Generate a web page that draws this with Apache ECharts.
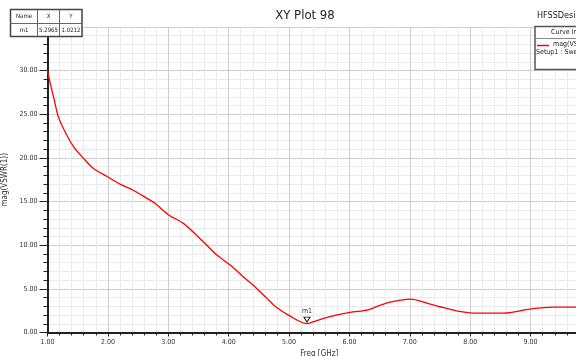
<!DOCTYPE html>
<html>
<head>
<meta charset="utf-8">
<script src="https://cdn.jsdelivr.net/npm/echarts@6/dist/echarts.min.js"></script>
<style>html,body{margin:0;padding:0;background:#fff}#c{width:576px;height:356px}</style>
</head>
<body>
<div id="c"></div>
<script>
var freq = [1.0,1.05,1.1,1.18,1.29,1.43,1.59,1.76,1.98,2.2,2.42,2.64,2.78,3.0,3.25,3.52,3.8,4.02,4.24,4.46,4.63,4.79,5.01,5.2965,5.46,5.68,6.01,6.31,6.5,6.67,6.85,7.02,7.28,7.5,7.77,8.1,8.55,8.99,9.37,9.7,10.0];
var vswr = [30.0,28.4,27.0,24.7,23.0,21.3,20.0,18.8,17.9,17.0,16.3,15.4,14.8,13.5,12.5,10.8,8.9,7.75,6.4,5.08,3.94,2.9,1.91,1.0212,1.37,1.83,2.3,2.6,3.1,3.48,3.72,3.82,3.37,2.95,2.49,2.22,2.22,2.68,2.9,2.9,2.9];
var markerName = ['m1'];
var markerX = [5.2965];
var markerY = [1.0212];
var titleText = 'XY Plot 98';
var designText = 'HFSSDesign1';
var xName = 'Freq [GHz]';
var yName = 'mag(VSWR(1))';
var legendLines = ['Curve Info', 'mag(VSWR(1))', 'Setup1 : Sweep'];

var FONT = '"Liberation Sans Narrow","DejaVu Sans Condensed","Liberation Sans",Arial,sans-serif';
var chart = echarts.init(document.getElementById('c'), null, {renderer: 'canvas'});
var pts = freq.map(function (f, i) { return [f, vswr[i]]; });

chart.setOption({
  animation: false,
  backgroundColor: '#ffffff',
  grid: {left: 47.5, top: 27, right: -15, bottom: 23.5, containLabel: false, outerBoundsMode: 'none'},
  xAxis: {
    type: 'value', min: 1, max: 10, interval: 1,
    name: xName, nameLocation: 'middle', nameGap: 13,
    nameTextStyle: {fontFamily: FONT, fontSize: 8, color: '#333'},
    axisLine: {onZero: false, lineStyle: {color: '#222', width: 2}},
    axisTick: {show: true, length: 4, lineStyle: {color: '#222', width: 1}},
    minorTick: {show: true, splitNumber: 5, length: 3, lineStyle: {color: '#222', width: 1}},
    axisLabel: {fontFamily: FONT, fontSize: 7, color: '#333', margin: 6,
      formatter: function (v) { return v >= 10 ? '' : v.toFixed(2); }},
    splitLine: {show: true, lineStyle: {color: '#cfcfcf', width: 1}},
    minorSplitLine: {show: true, lineStyle: {color: '#ebebeb', width: 1}}
  },
  yAxis: {
    type: 'value', min: 0, max: 35, interval: 5,
    name: yName, nameLocation: 'middle', nameGap: 31, nameRotate: 90,
    nameTextStyle: {fontFamily: FONT, fontSize: 8, color: '#333'},
    axisLine: {onZero: false, lineStyle: {color: '#222', width: 2}},
    axisTick: {show: true, length: 8, lineStyle: {color: '#222', width: 1}},
    minorTick: {show: true, splitNumber: 5, length: 4, lineStyle: {color: '#222', width: 1}},
    axisLabel: {fontFamily: FONT, fontSize: 7, color: '#333', margin: 10,
      formatter: function (v) { return v >= 35 ? '' : v.toFixed(2); }},
    splitLine: {show: true, lineStyle: {color: '#cfcfcf', width: 1}},
    minorSplitLine: {show: true, lineStyle: {color: '#ebebeb', width: 1}}
  },
  series: [{
    type: 'line', data: pts, showSymbol: false, smooth: 0.3,
    lineStyle: {color: '#ff0000', width: 1.3},
    markPoint: {
      symbol: 'triangle', symbolRotate: 180, symbolSize: [6, 5], symbolOffset: [0, -4],
      itemStyle: {color: '#ffffff', borderColor: '#111', borderWidth: 1},
      label: {show: true, position: 'top', distance: 2, fontFamily: FONT, fontSize: 7, color: '#333',
        formatter: function (p) { return p.name; }},
      data: markerName.map(function (n, i) { return {name: n, coord: [markerX[i], markerY[i]]}; })
    }
  }],
  graphic: [
    {type: 'text', style: {x: 305, y: 9, text: titleText, font: '13px ' + FONT, fill: '#222', textAlign: 'center'}, z: 100},
    {type: 'text', style: {x: 537, y: 11, text: designText, font: '9px ' + FONT, fill: '#222'}, z: 100},
    {type: 'rect', shape: {x: 535, y: 26.5, width: 60, height: 43}, style: {fill: '#fff', stroke: '#555', lineWidth: 1.5}, z: 100},
    {type: 'line', shape: {x1: 535, y1: 38.5, x2: 600, y2: 38.5}, style: {stroke: '#888', lineWidth: 1}, z: 101},
    {type: 'text', style: {x: 551, y: 29, text: legendLines[0], font: '7px ' + FONT, fill: '#222'}, z: 101},
    {type: 'line', shape: {x1: 537, y1: 45.5, x2: 549, y2: 45.5}, style: {stroke: '#ff0000', lineWidth: 1.5}, z: 101},
    {type: 'text', style: {x: 553, y: 41, text: legendLines[1], font: '7px ' + FONT, fill: '#222'}, z: 101},
    {type: 'text', style: {x: 536, y: 49, text: legendLines[2], font: '7px ' + FONT, fill: '#222'}, z: 101},
    {type: 'rect', shape: {x: 10.5, y: 9.5, width: 71.5, height: 27}, style: {fill: '#fff', stroke: '#444', lineWidth: 1.5}, z: 100},
    {type: 'line', shape: {x1: 10.5, y1: 23.5, x2: 82, y2: 23.5}, style: {stroke: '#666', lineWidth: 1}, z: 101},
    {type: 'line', shape: {x1: 37.5, y1: 9.5, x2: 37.5, y2: 36.5}, style: {stroke: '#666', lineWidth: 1}, z: 101},
    {type: 'line', shape: {x1: 59.5, y1: 9.5, x2: 59.5, y2: 36.5}, style: {stroke: '#666', lineWidth: 1}, z: 101},
    {type: 'text', style: {x: 24, y: 13, text: 'Name', font: '6px ' + FONT, fill: '#222', textAlign: 'center'}, z: 101},
    {type: 'text', style: {x: 48.5, y: 13, text: 'X', font: '6px ' + FONT, fill: '#222', textAlign: 'center'}, z: 101},
    {type: 'text', style: {x: 71, y: 13, text: 'Y', font: '6px ' + FONT, fill: '#222', textAlign: 'center'}, z: 101},
    {type: 'text', style: {x: 24, y: 27, text: markerName[0], font: '6px ' + FONT, fill: '#222', textAlign: 'center'}, z: 101},
    {type: 'text', style: {x: 48.5, y: 27, text: markerX[0].toFixed(4), font: '6px ' + FONT, fill: '#222', textAlign: 'center'}, z: 101},
    {type: 'text', style: {x: 71, y: 27, text: markerY[0].toFixed(4), font: '6px ' + FONT, fill: '#222', textAlign: 'center'}, z: 101}
  ]
});
</script>
</body>
</html>
